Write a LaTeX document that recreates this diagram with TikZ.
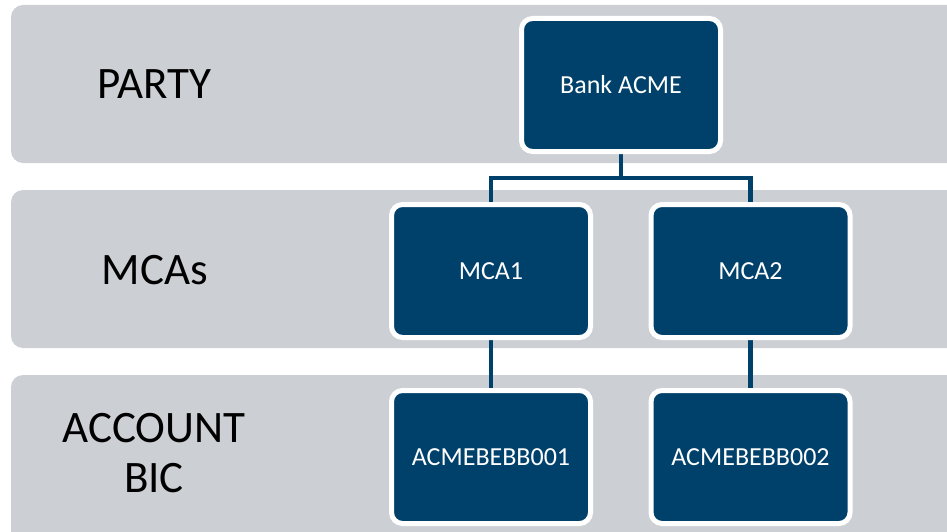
\documentclass[tikz,border=0pt]{standalone}
\usepackage{fontspec}
\setmainfont{Carlito}
\definecolor{band}{RGB}{204,207,212}
\definecolor{navy}{RGB}{0,65,107}
\pgfdeclarelayer{bands}
\pgfdeclarelayer{links}
\pgfsetlayers{bands,links,main}
\tikzset{
  bandrect/.style={fill=band, rounded corners=12pt},
  bluebox/.style={rectangle, fill=navy, draw=white, line width=5pt, rounded corners=11pt,
    minimum width=199pt, minimum height=133pt, inner sep=0pt, text=white,
    font=\fontsize{26}{30}\selectfont},
  rowlabel/.style={text=black, align=center, inner sep=0pt, font=\fontsize{45}{50}\selectfont},
  link/.style={draw=navy, line width=4.5pt}
}
\begin{document}
\begin{tikzpicture}[x=1pt,y=-1pt]
\useasboundingbox (0,0) rectangle (947,532);
\clip (0,0) rectangle (947,532);
\begin{pgfonlayer}{bands}
\fill[bandrect] (11,5) rectangle (975,163);
\fill[bandrect] (11,190) rectangle (975,348);
\fill[bandrect] (11,375) rectangle (975,560);
\end{pgfonlayer}
\node[rowlabel] (party) at (154,84) {PARTY};
\node[rowlabel] (mcas) at (155,270) {MCAs};
\node[rowlabel] (acct) at (154,453) {ACCOUNT\\BIC};
\node[bluebox] (bank) at (621,85) {Bank ACME};
\node[bluebox] (mca1) at (491,271) {MCA1};
\node[bluebox] (mca2) at (750.5,271) {MCA2};
\node[bluebox] (bic1) at (491,457) {ACMEBEBB001};
\node[bluebox] (bic2) at (750.5,457) {ACMEBEBB002};
\coordinate (j) at (621,178);
\begin{pgfonlayer}{links}
\draw[link] (bank.south) -- (j);
\draw[link, line cap=rect] (mca1.north) |- (j) -| (mca2.north);
\draw[link] (mca1.south) -- (bic1.north);
\draw[link] (mca2.south) -- (bic2.north);
\end{pgfonlayer}
\end{tikzpicture}
\end{document}
